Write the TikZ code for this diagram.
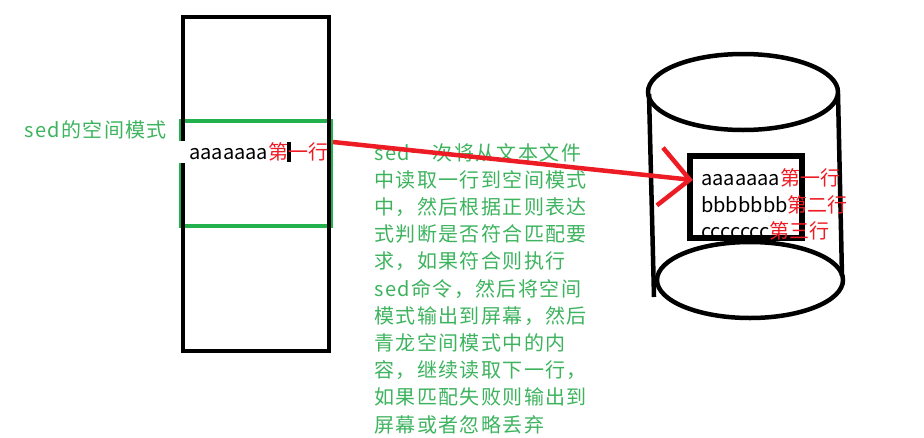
\documentclass[tikz,border=0pt]{standalone}
\usepackage{fontspec}
\setmainfont{Noto Sans CJK SC}
\usepackage{xcolor}
\usetikzlibrary{arrows.meta, positioning}
\definecolor{paintgreen}{HTML}{22B14C}
\definecolor{textgreen}{HTML}{3DB35E}
\definecolor{paintred}{HTML}{ED1C24}

\begin{document}
\begin{tikzpicture}[x=1pt,y=-1pt,line width=4.5pt,
                    >={Straight Barb[length=30pt,width=58pt]}]
  \tikzstyle{every node}=[font=\fontsize{20}{27.2}\selectfont,inner sep=0pt]
  \tikzstyle{note}=[text=textgreen,align=left,
                    font=\fontsize{20}{27.2}\selectfont\addfontfeatures{LetterSpace=7}]

  \useasboundingbox (0,0) rectangle (924,437);

  % text file column
  \draw[paintgreen] (181,121) rectangle (331,226);
  \draw (183,17) rectangle (329,351);
  \fill[white] (179,141) rectangle (186,163);
  \fill (287,142) rectangle (291,162);
  \node[anchor=west] (cur) at (187,152) {aaaaaaa\textcolor{paintred}{第一行}};
  \node[note,anchor=west] (space) at (22,130) {sed的空间模式};

  % explanation
  \node[note,anchor=north west] (desc) at (372,141)
    {sed一次将从文本文件\\中读取一行到空间模式\\中，然后根据正则表达\\式判断是否符合匹配要\\求，如果符合则执行\\sed命令，然后将空间\\模式输出到屏幕，然后\\青龙空间模式中的内\\容，继续读取下一行，\\如果匹配失败则输出到\\屏幕或者忽略丢弃};

  % cylinder
  \draw (743,92) ellipse [x radius=95,y radius=38];
  \draw (750,280) ellipse [x radius=93,y radius=38];
  \draw (649,94) -- (654,297);
  \draw (838,94) -- (842,276);
  \draw[line width=5.5pt] (690,156) rectangle (802,238);
  \node[anchor=west] (l1) at (699,178) {aaaaaaa\textcolor{paintred}{第一行}};
  \node[anchor=west] (l2) at ([yshift=-26.5pt]l1.west) {bbbbbbb\textcolor{paintred}{第二行}};
  \node[anchor=west] (l3) at ([yshift=-26.5pt]l2.west) {ccccccc\textcolor{paintred}{第三行}};

  \coordinate (src) at (333,142);
  \coordinate (dst) at (693,180);
  \draw[paintred,->] (src) -- (dst);
\end{tikzpicture}
\end{document}
